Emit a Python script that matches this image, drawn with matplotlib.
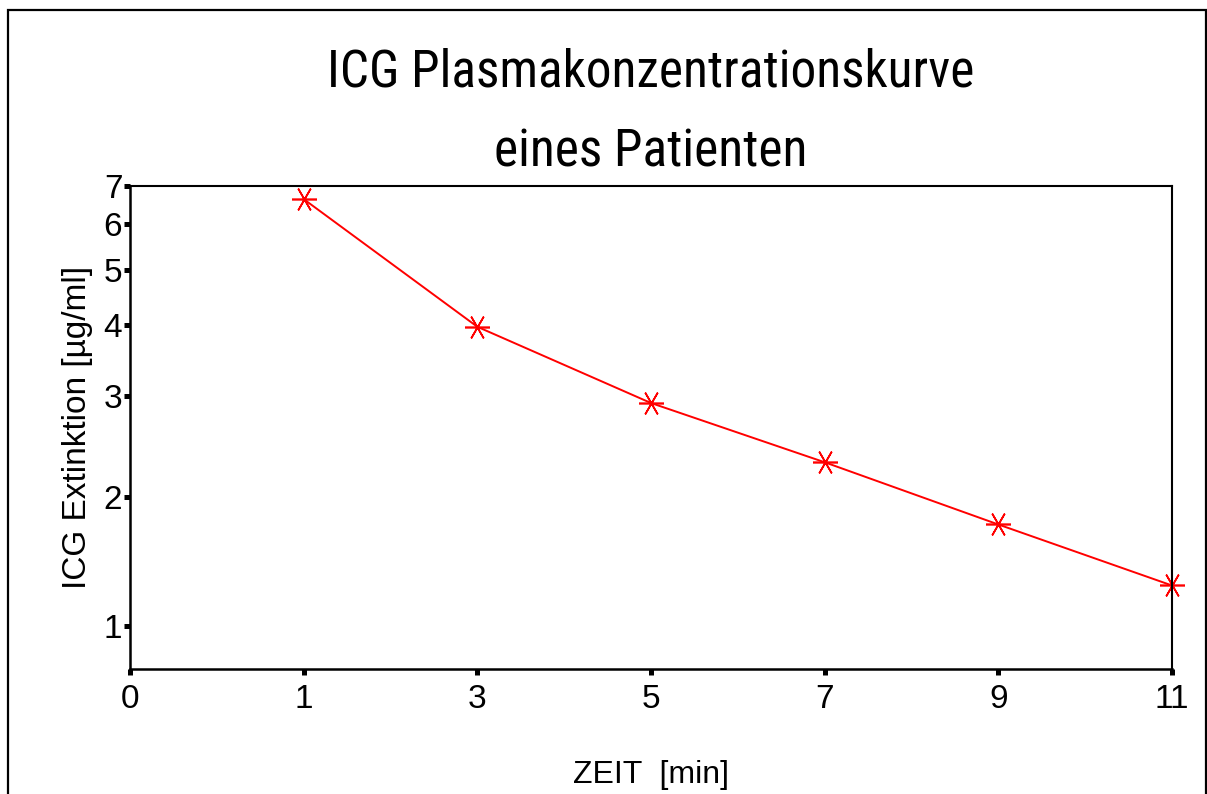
import matplotlib
matplotlib.use("Agg")
import matplotlib.pyplot as plt
from matplotlib.patches import Rectangle

plt.rcParams['font.family'] = ['Liberation Sans', 'DejaVu Sans']

# Messzeitpunkte und ICG-Konzentration
zeit_labels = ['0', '1', '3', '5', '7', '9', '11']
zeit_pos = [1, 2, 3, 4, 5, 6]
icg_werte = [6.64, 3.97, 2.92, 2.30, 1.79, 1.40]

# Achsenbeschriftung der y-Achse (log)
y_tick_pos = [1.19, 2, 3, 4, 5, 6, 7]
y_tick_labels = ['1', '2', '3', '4', '5', '6', '7']

fig = plt.figure(figsize=(12.07, 7.94), dpi=100)
ax = fig.add_axes([130/1207, 125/794, 1042/1207, 483/794])

# Rahmen um die ganze Grafik
fig.patches.append(Rectangle((8/1207, -0.05), 1197.5/1207, 0.05 + 784/794,
                             transform=fig.transFigure, fill=False,
                             edgecolor='black', linewidth=1.6))

ax.plot(zeit_pos, icg_werte, color='red', linewidth=1.4,
        marker=(6, 2, 30), markersize=18, markeredgewidth=1.2,
        markeredgecolor='red', clip_on=False)

ax.set_yscale('log')
ax.set_ylim(1.0, 7.0)
ax.set_xlim(0, 6)
ax.set_yticks(y_tick_pos)
ax.set_yticklabels(y_tick_labels)
ax.minorticks_off()
ax.set_xticks(range(len(zeit_labels)))
ax.set_xticklabels(zeit_labels)

ax.tick_params(axis='both', direction='out', length=4.5, width=3.6,
               labelsize=24, color='black')
ax.tick_params(axis='y', pad=1)
ax.tick_params(axis='x', pad=6)

for s in ax.spines.values():
    s.set_linewidth(1.5)
ax.spines['left'].set_linewidth(1.8)
ax.spines['bottom'].set_linewidth(1.8)

ax.set_ylabel('ICG Extinktion [µg/ml]', fontsize=24, labelpad=8)
ax.set_xlabel('ZEIT  [min]', fontsize=23, labelpad=33)

ax.set_title('ICG Plasmakonzentrationskurve\neines Patienten',
             fontsize=37, linespacing=1.78, pad=14,
             family=['Roboto Condensed', 'Liberation Sans', 'DejaVu Sans'])

plt.savefig('out.png', dpi=100)
